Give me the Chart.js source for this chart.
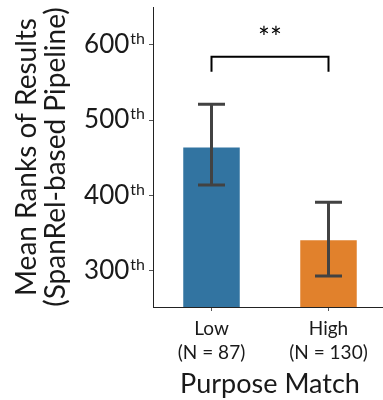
<!DOCTYPE html>
<html>
<head>
<meta charset="utf-8">
<script src="https://cdn.jsdelivr.net/npm/chart.js@4/dist/chart.umd.min.js"></script>
<style>
  html, body { margin: 0; padding: 0; background: #fff; overflow: hidden; }
  #wrap { width: 383px; height: 400px; position: relative; overflow: hidden; }
</style>
</head>
<body>
<div id="wrap"><canvas id="c" width="387" height="400"></canvas></div>
<script>
// Purpose-match groups and their mean ranks
const groups = ['Low', 'High'];
const groupSizes = [87, 130];
const meanRanks = [465, 342];
const ciLower = [414, 293];
const ciUpper = [521, 391];
const barColors = ['#3274a1', '#e1812c'];
const yTickValues = [300, 400, 500, 600];
const yTickSuffix = 'th';
const significance = '**';

const FONT = 'Lato, "Open Sans", sans-serif';
const W = '400';
const categories = groups.map((g, i) => [g, '(N = ' + groupSizes[i] + ')']);

// Draws the y tick labels with ordinal superscripts
const ordinalTicks = {
  id: 'ordinalTicks',
  afterDraw(chart) {
    const y = chart.scales.y;
    const ctx = chart.ctx;
    ctx.save();
    ctx.fillStyle = '#1a1a1a';
    ctx.textBaseline = 'middle';
    yTickValues.forEach(v => {
      const py = y.getPixelForValue(v);
      const right = y.right - 8;
      ctx.font = W + ' 16px ' + FONT;
      const sw = ctx.measureText(yTickSuffix).width;
      ctx.textAlign = 'left';
      ctx.fillText(yTickSuffix, right - sw, py - 6);
      ctx.font = W + ' 26px ' + FONT;
      ctx.textAlign = 'right';
      ctx.fillText(String(v), right - sw - 1, py);
    });
    ctx.restore();
  }
};

// Draws the confidence-interval whiskers and the significance bracket
const whiskers = {
  id: 'whiskers',
  afterDatasetsDraw(chart) {
    const x = chart.scales.x, y = chart.scales.y, ctx = chart.ctx;
    ctx.save();
    ctx.strokeStyle = '#424242';
    ctx.lineWidth = 3;
    ctx.lineCap = 'butt';
    const cap = 13.5;
    groups.forEach((g, i) => {
      const px = x.getPixelForValue(i);
      const lo = y.getPixelForValue(ciLower[i]);
      const hi = y.getPixelForValue(ciUpper[i]);
      ctx.beginPath();
      ctx.moveTo(px, lo); ctx.lineTo(px, hi);
      ctx.moveTo(px - cap, lo); ctx.lineTo(px + cap, lo);
      ctx.moveTo(px - cap, hi); ctx.lineTo(px + cap, hi);
      ctx.stroke();
    });
    // significance bracket between the two groups
    const x0 = x.getPixelForValue(0), x1 = x.getPixelForValue(1);
    const top = y.getPixelForValue(584), leg = y.getPixelForValue(564);
    ctx.strokeStyle = '#000';
    ctx.lineWidth = 2;
    ctx.beginPath();
    ctx.moveTo(x0, leg); ctx.lineTo(x0, top); ctx.lineTo(x1, top); ctx.lineTo(x1, leg);
    ctx.stroke();
    ctx.fillStyle = '#000';
    ctx.font = '28px ' + FONT;
    ctx.textAlign = 'center';
    ctx.textBaseline = 'middle';
    ctx.fillText(significance, (x0 + x1) / 2, top - 18);
    ctx.restore();
  }
};

new Chart(document.getElementById('c'), {
  type: 'bar',
  data: {
    labels: categories,
    datasets: [{
      data: meanRanks,
      backgroundColor: barColors,
      borderColor: 'rgba(255,255,255,0.45)',
      borderWidth: 1,
      barPercentage: 0.5,
      categoryPercentage: 1.0
    }]
  },
  plugins: [ordinalTicks, whiskers],
  options: {
    responsive: false,
    animation: false,
    layout: { padding: { top: 7, right: 0, left: 0, bottom: 0 } },
    plugins: { legend: { display: false }, tooltip: { enabled: false } },
    scales: {
      y: {
        min: 252,
        max: 650,
        afterBuildTicks(scale) { scale.ticks = yTickValues.map(v => ({ value: v })); },
        afterFit(scale) { scale.width = 153; },
        ticks: { display: false },
        grid: { drawOnChartArea: false, drawTicks: true, tickLength: 4, tickColor: '#555', tickWidth: 1 },
        border: { display: true, color: '#222', width: 1 },
        title: {
          display: true,
          text: ['Mean Ranks of Results', '(SpanRel-based Pipeline)'],
          font: { family: FONT, size: 28, weight: W, lineHeight: 1.04 },
          color: '#1a1a1a',
          padding: { top: 12, bottom: 0 }
        }
      },
      x: {
        afterFit(scale) { scale.height = 93; },
        ticks: {
          color: '#1a1a1a',
          font: { family: FONT, size: 19, weight: W, lineHeight: 1.25 },
          padding: 6,
          maxRotation: 0
        },
        grid: { drawOnChartArea: false, drawTicks: true, tickLength: 4, tickColor: '#555', offset: false },
        border: { display: true, color: '#222', width: 1 },
        title: {
          display: true,
          text: 'Purpose Match',
          font: { family: FONT, size: 27, weight: W },
          color: '#1a1a1a',
          padding: { top: 0, bottom: 0 }
        }
      }
    }
  }
});
</script>
</body>
</html>
